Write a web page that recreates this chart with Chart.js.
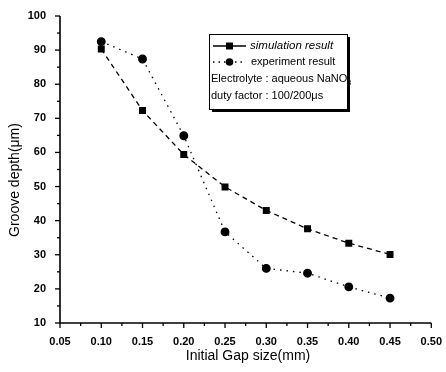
<!DOCTYPE html>
<html><head><meta charset="utf-8">
<script src="https://cdn.jsdelivr.net/npm/chart.js@4/dist/chart.umd.min.js"></script>
<style>html,body{margin:0;padding:0;background:#fff}#wrap{width:446px;height:372px}</style>
</head><body><div id="wrap"><canvas id="c" width="446" height="372"></canvas></div>
<script>
const gapSizes = [0.10, 0.15, 0.20, 0.25, 0.30, 0.35, 0.40, 0.45];
const simulation = [90.3, 72.3, 59.4, 49.9, 43.0, 37.6, 33.4, 30.1];
const experiment = [92.5, 87.4, 64.9, 36.7, 26.0, 24.6, 20.6, 17.3];
const seriesNames = ['simulation result', 'experiment result'];
const legendNotes = ['Electrolyte : aqueous NaNO', 'duty factor : 100/200\u03BCs'];
const xTitle = 'Initial Gap size(mm)';
const yTitle = 'Groove depth(\u03BCm)';

const FONT = '"Liberation Sans", Arial, sans-serif';

const axesPlugin = {
  id: 'axesPlugin',
  afterDraw(chart) {
    const ctx = chart.ctx, ca = chart.chartArea;
    const xs = chart.scales.x, ys = chart.scales.y;
    ctx.save();
    ctx.strokeStyle = '#000';
    ctx.lineWidth = 1.6;
    ctx.beginPath();
    ctx.moveTo(ca.left, ca.top); ctx.lineTo(ca.left, ca.bottom); ctx.lineTo(ca.right, ca.bottom);
    ctx.stroke();
    ctx.lineWidth = 1.3;
    for (let v = ys.min; v <= ys.max + 1e-9; v += 5) {
      const p = ys.getPixelForValue(v);
      const major = Math.abs(v % 10) < 1e-6;
      ctx.beginPath(); ctx.moveTo(ca.left, p); ctx.lineTo(ca.left - (major ? 5 : 3), p); ctx.stroke();
    }
    for (let i = 0; i <= 18; i++) {
      const v = xs.min + i * 0.025;
      const p = xs.getPixelForValue(v);
      const major = i % 2 === 0;
      ctx.beginPath(); ctx.moveTo(p, ca.bottom); ctx.lineTo(p, ca.bottom + (major ? 5 : 3)); ctx.stroke();
    }
    ctx.fillStyle = '#000';
    ctx.font = '14px ' + FONT;
    ctx.textAlign = 'center'; ctx.textBaseline = 'middle';
    ctx.fillText(xTitle, 248, 356);
    ctx.save();
    ctx.translate(15, 180);
    ctx.rotate(-Math.PI / 2);
    ctx.fillText(yTitle, 0, 0);
    ctx.restore();

    // legend box
    const bx = 209, by = 34, bw = 138, bh = 75;
    ctx.fillStyle = '#fff';
    ctx.fillRect(bx, by, bw, bh);
    ctx.fillStyle = '#000';
    ctx.fillRect(bx + bw, by + 3, 3, bh);
    ctx.fillRect(bx + 3, by + bh, bw, 3);
    ctx.lineWidth = 1;
    ctx.strokeRect(bx + 0.5, by + 0.5, bw, bh);
    const rows = [46, 62, 79, 96];
    ctx.textAlign = 'left';
    ctx.lineWidth = 1.3;
    ctx.beginPath(); ctx.moveTo(213, rows[0]); ctx.lineTo(246, rows[0]); ctx.stroke();
    ctx.fillRect(226, rows[0] - 3.5, 7, 7);
    ctx.font = 'italic 11.5px ' + FONT;
    ctx.fillText(seriesNames[0], 250, rows[0]);
    ctx.setLineDash([1.5, 4]);
    ctx.beginPath(); ctx.moveTo(213, rows[1]); ctx.lineTo(246, rows[1]); ctx.stroke();
    ctx.setLineDash([]);
    ctx.beginPath(); ctx.arc(229.5, rows[1], 3.8, 0, Math.PI * 2); ctx.fill();
    ctx.font = '11px ' + FONT;
    ctx.fillText(seriesNames[1], 251, rows[1]);
    ctx.font = '11px ' + FONT;
    ctx.fillText(legendNotes[0], 211, rows[2]);
    const w = ctx.measureText(legendNotes[0]).width;
    ctx.font = '7px ' + FONT;
    ctx.fillText('3', 211 + w, rows[2] + 4);
    ctx.font = '11px ' + FONT;
    ctx.fillText(legendNotes[1], 211, rows[3]);
    ctx.restore();
  }
};

new Chart(document.getElementById('c'), {
  type: 'line',
  data: {
    datasets: [
      {
        label: seriesNames[0],
        data: gapSizes.map((x, i) => ({x, y: simulation[i]})),
        borderColor: '#000', backgroundColor: '#000',
        borderWidth: 1.3, borderDash: [5, 4],
        pointStyle: 'rect', pointRadius: 4, pointHoverRadius: 4,
        tension: 0
      },
      {
        label: seriesNames[1],
        data: gapSizes.map((x, i) => ({x, y: experiment[i]})),
        borderColor: '#000', backgroundColor: '#000',
        borderWidth: 1.3, borderDash: [1.5, 5],
        pointStyle: 'circle', pointRadius: 3.8, pointHoverRadius: 3.8,
        tension: 0
      }
    ]
  },
  options: {
    responsive: false, animation: false,
    layout: { padding: { top: 16, right: 13, left: 0, bottom: 0 } },
    plugins: { legend: { display: false }, tooltip: { enabled: false } },
    scales: {
      x: {
        type: 'linear', min: 0.05, max: 0.5,
        border: { display: false },
        grid: { display: false },
        ticks: {
          stepSize: 0.05, color: '#000', padding: 4,
          font: { family: FONT, size: 11, weight: 'bold' },
          maxRotation: 0, autoSkip: false,
          callback: v => Number(v).toFixed(2)
        },
        afterFit: s => { s.height = 49; }
      },
      y: {
        min: 10, max: 100,
        border: { display: false },
        grid: { display: false },
        ticks: {
          stepSize: 10, color: '#000', padding: 6,
          font: { family: FONT, size: 11, weight: 'bold' }
        },
        afterFit: s => { s.width = 60; }
      }
    }
  },
  plugins: [axesPlugin]
});
</script>
</body></html>
